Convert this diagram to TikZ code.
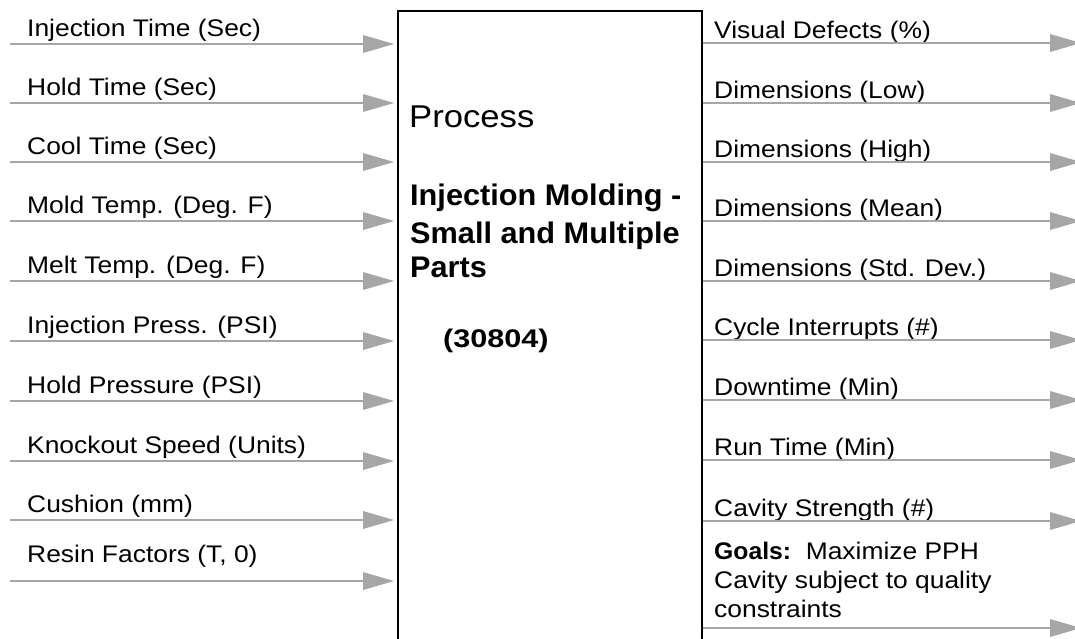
\documentclass[tikz,border=0pt]{standalone}
\usepackage{fontspec}
\setmainfont{Liberation Sans}[FakeStretch=1.1]
\newfontfamily\headfont{Liberation Sans}[FakeStretch=1.1]
\newfontfamily\titlefont{Liberation Sans}[FakeStretch=1.03]
\newfontfamily\codefont{Liberation Sans}[FakeStretch=1.2]
\usetikzlibrary{arrows.meta}
\definecolor{flowgray}{HTML}{A6A6A6}
\tikzset{
  flow/.style={draw=flowgray, line width=2pt,
    -{Triangle[length=31pt,width=18pt,fill=flowgray,line width=0pt]}},
  lbl/.style={inner sep=0pt, anchor=base west,
    font=\fontsize{24}{28}\selectfont},
  procbox/.style={draw=black, line width=2pt, fill=white, inner sep=0pt,
    anchor=north west, minimum width=304pt, minimum height=660pt}
}
\begin{document}
\begin{tikzpicture}[x=1pt,y=-1pt]
\useasboundingbox (0,0) rectangle (1075,638);
\clip (0,0) rectangle (1075,638);

% process block
\node[procbox] (proc) at (397,10) {};
\node[lbl, font=\headfont\fontsize{31.5}{34}\selectfont] (ptitle) at (409,127) {Process};
\node[lbl, font=\titlefont\bfseries\fontsize{29.8}{32}\selectfont] (pname1) at (410,205) {Injection Molding -};
\node[lbl, font=\titlefont\bfseries\fontsize{29.8}{32}\selectfont] (pname2) at (410,243) {Small and Multiple};
\node[lbl, font=\titlefont\bfseries\fontsize{29.8}{32}\selectfont] (pname3) at (410,277) {Parts};
\node[lbl] (pcode) at (443,347) {\codefont\bfseries\fontsize{25.5}{30}\selectfont (30804)};

% inputs
\foreach \i/\y/\dy/\t in {
  1/44/8/{Injection Time (Sec)},
  2/103/8/{Hold Time (Sec)},
  3/162/8/{Cool Time (Sec)},
  4/221/8/{Mold Temp. (Deg. F)},
  5/281/8/{Melt Temp. (Deg. F)},
  6/341/8/{Injection Press. (PSI)},
  7/401/8/{Hold Pressure (PSI)},
  8/461/8/{Knockout Speed (Units)},
  9/520/8/{Cushion (mm)},
  10/581/19/{Resin Factors (T, 0)}}{
  \coordinate (in\i) at (10,\y);
  \node[lbl] (inl\i) at (27,\y-\dy) {\t};
  \draw[flow, shorten >=3pt] (in\i) -- (proc.west |- in\i);
}

% outputs
\foreach \i/\y/\t in {
  1/43/{Visual Defects (\%)},
  2/103/{Dimensions (Low)},
  3/162/{Dimensions (High)},
  4/221/{Dimensions (Mean)},
  5/281/{Dimensions (Std. Dev.)},
  6/340/{Cycle Interrupts (\#)},
  7/400/{Downtime (Min)},
  8/460/{Run Time (Min)},
  9/521/{Cavity Strength (\#)}}{
  \coordinate (out\i) at (1081,\y);
  \node[lbl] (outl\i) at (714,\y-5) {\t};
  \draw[flow] (proc.east |- out\i) -- (out\i);
}

% goals
\coordinate (out10) at (1081,628);
\node[lbl] (goal1) at (714,559) {{\titlefont\bfseries Goals:}\ \ Maximize PPH};
\node[lbl] (goal2) at (714,588) {Cavity subject to quality};
\node[lbl] (goal3) at (714,617) {constraints};
\draw[flow] (proc.east |- out10) -- (out10);
\end{tikzpicture}
\end{document}
